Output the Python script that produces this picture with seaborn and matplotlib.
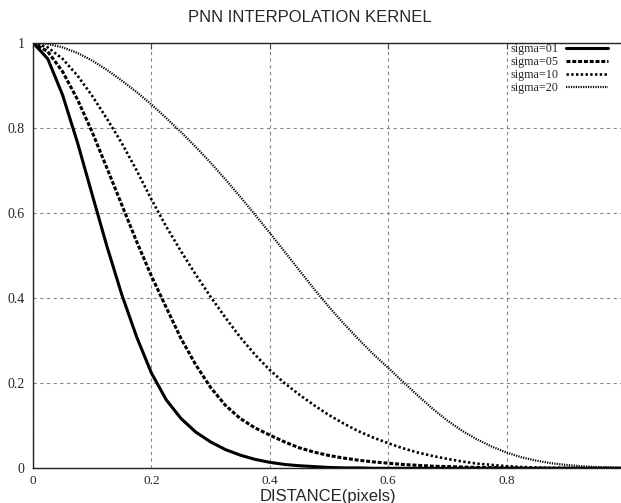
import numpy as np
import pandas as pd
import matplotlib
matplotlib.use("Agg")
import matplotlib.pyplot as plt
import seaborn as sns

# values (x step 0.025)
distance = [0, 0.025, 0.05, 0.075, 0.1, 0.125, 0.15, 0.175, 0.2, 0.225,
            0.25, 0.275, 0.3, 0.325, 0.35, 0.375, 0.4, 0.425, 0.45, 0.475,
            0.5, 0.525, 0.55, 0.575, 0.6, 0.625, 0.65, 0.675, 0.7, 0.725,
            0.75, 0.775, 0.8, 0.825, 0.85, 0.875, 0.9, 0.925, 0.95, 0.975, 1.0]
sigma01 = [1.0, 0.962, 0.877, 0.766, 0.643, 0.521, 0.408, 0.309, 0.224, 0.161,
           0.117, 0.085, 0.062, 0.044, 0.031, 0.021, 0.014, 0.009, 0.006, 0.004,
           0.002, 0.001, 0.001, 0.0, 0.0, 0.0, 0.0, 0.0, 0.0, 0.0,
           0.0, 0.0, 0.0, 0.0, 0.0, 0.0, 0.0, 0.0, 0.0, 0.0, 0.0]
sigma05 = [1.0, 0.979, 0.932, 0.867, 0.790, 0.705, 0.619, 0.533, 0.452, 0.378,
           0.305, 0.243, 0.190, 0.148, 0.117, 0.095, 0.078, 0.062, 0.048, 0.038,
           0.030, 0.024, 0.019, 0.015, 0.012, 0.009, 0.007, 0.005, 0.004, 0.003,
           0.002, 0.0015, 0.001, 0.0, 0.0, 0.0, 0.0, 0.0, 0.0, 0.0, 0.0]
sigma10 = [1.0, 0.989, 0.962, 0.923, 0.875, 0.821, 0.764, 0.700, 0.632, 0.568,
           0.510, 0.455, 0.403, 0.354, 0.308, 0.267, 0.231, 0.200, 0.173, 0.148,
           0.125, 0.105, 0.087, 0.072, 0.059, 0.047, 0.037, 0.029, 0.022, 0.016,
           0.011, 0.008, 0.005, 0.003, 0.002, 0.001, 0.001, 0.0, 0.0, 0.0, 0.0]
sigma20 = [1.0, 0.997, 0.989, 0.976, 0.958, 0.936, 0.911, 0.884, 0.855, 0.823,
           0.790, 0.755, 0.718, 0.679, 0.638, 0.596, 0.553, 0.509, 0.465, 0.421,
           0.379, 0.340, 0.303, 0.268, 0.236, 0.203, 0.171, 0.140, 0.112, 0.088,
           0.068, 0.051, 0.037, 0.026, 0.018, 0.012, 0.008, 0.005, 0.003, 0.002, 0.001]
series_names = ["sigma=01", "sigma=05", "sigma=10", "sigma=20"]
xtick_vals = [0, 0.2, 0.4, 0.6, 0.8]
xtick_labels = ["0", "0.2", "0.4", "0.6", "0.8"]
ytick_vals = [0, 0.2, 0.4, 0.6, 0.8, 1.0]
ytick_labels = ["0", "0.2", "0.4", "0.6", "0.8", "1"]

sns.set_style("white")
plt.rcParams['font.family'] = ['Liberation Serif', 'DejaVu Serif']

fig = plt.figure(figsize=(6.21, 5.03), dpi=100)
# plot box runs past the right edge like the cropped original
ax = fig.add_axes([33 / 621, 1 - 468.3 / 503, 592 / 621, 425.6 / 503])

# solid, thick dashes, dots, fine dots
styles = [
    dict(linewidth=2.2, linestyle="-"),
    dict(linewidth=2.2, linestyle=(0, (1.3, 0.6))),
    dict(linewidth=1.9, linestyle=(0, (0.9, 0.9))),
    dict(linewidth=1.6, linestyle=(0, (0.55, 0.55))),
]
for name, vals, st in zip(series_names, [sigma01, sigma05, sigma10, sigma20], styles):
    df = pd.DataFrame({"x": distance, "y": vals})
    sns.lineplot(data=df, x="x", y="y", ax=ax, color="black", label=name, **st)

ax.set_xlim(0, 1.0)
ax.set_ylim(0, 1.0)
ax.set_xticks(xtick_vals)
ax.set_xticklabels(xtick_labels, fontsize=9.5)
ax.set_yticks(ytick_vals)
ax.set_yticklabels(ytick_labels, fontsize=10)
ax.tick_params(direction="in", length=4, width=0.8, color="#444444", top=True, pad=5)
ax.tick_params(axis="y", pad=6)
ax.grid(True, linestyle=(0, (3, 3)), color="#888888", linewidth=0.8)
ax.set_xlabel("")
ax.set_ylabel("")
for side in ["left", "bottom", "top"]:
    ax.spines[side].set_visible(True)
    ax.spines[side].set_color("#222222")
    ax.spines[side].set_linewidth(1.0)
ax.spines["right"].set_visible(False)

ax.legend(loc="upper right", bbox_to_anchor=(608 / 621, 1 - 43 / 503),
          bbox_transform=fig.transFigure, frameon=False, markerfirst=False,
          fontsize=8.7, handlelength=3.5, handletextpad=0.6, labelspacing=0.08,
          borderpad=0, borderaxespad=0)

fig.text(310 / 621, 1 - 22.5 / 503, "PNN INTERPOLATION KERNEL", ha="center", va="baseline",
         fontsize=12, family=["Liberation Sans", "DejaVu Sans"])
fig.text(328 / 621, 1 - 500.5 / 503, "DISTANCE(pixels)", ha="center", va="baseline",
         fontsize=12, family=["Liberation Sans", "DejaVu Sans"])

fig.savefig("out.png", dpi=100)
